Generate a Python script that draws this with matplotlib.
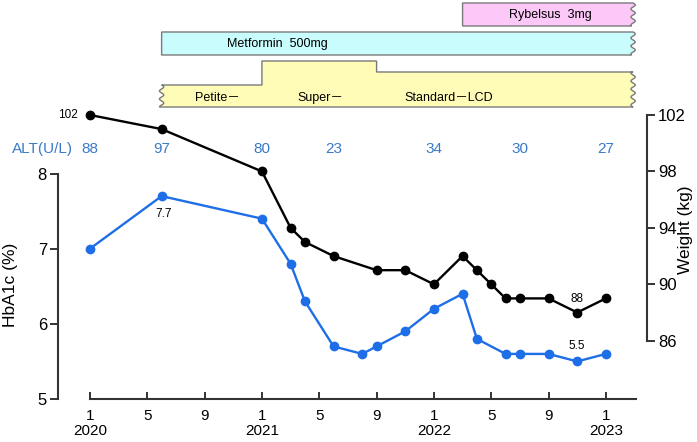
import numpy as np
import matplotlib
matplotlib.use("Agg")
import matplotlib.pyplot as plt
from matplotlib.patches import Polygon

plt.rcParams['font.family'] = ['Liberation Sans', 'Noto Sans CJK JP', 'DejaVu Sans']

# months counted from Jan 2020 (0 = 2020/1)
w_month = [0, 5, 12, 14, 15, 17, 20, 22, 24, 26, 27, 28, 29, 30, 32, 34, 36]
weight = [102, 101, 98, 94, 93, 92, 91, 91, 90, 92, 91, 90, 89, 89, 89, 88, 89]
a_month = [0, 5, 12, 14, 15, 17, 19, 20, 22, 24, 26, 27, 29, 30, 32, 34, 36]
hba1c = [7.0, 7.7, 7.4, 6.8, 6.3, 5.7, 5.6, 5.7, 5.9, 6.2, 6.4, 5.8, 5.6, 5.6, 5.6, 5.5, 5.6]

alt_month = [0, 5, 12, 17, 24, 30, 36]
alt = [88, 97, 80, 23, 34, 30, 27]

xticks = list(range(0, 37, 4))
xlabels = ['1\n2020', '5', '9', '1\n2021', '5', '9', '1\n2022', '5', '9', '1\n2023']

# treatments (start month)
ryb_start = 26
met_start = 5
diet_steps = [5, 12, 20]
diet_labels = ['Petite－', 'Super－', 'Standard－LCD']
bar_end = 37.9

BLUE = '#1e6ee8'
ALTC = '#3a7ac8'
SPINE = '#333333'

fig = plt.figure(figsize=(6.97, 4.42), dpi=100)
ax = fig.add_axes([58/697, 1-399/442, 589/697, 399/442])
ax.patch.set_alpha(0)
xl = (-2.23, 38.87)
ax.set_xlim(*xl)
ax.set_ylim(5, 10.31)

ax2 = ax.twinx()
ax2.set_ylim(81.87, 110.15)

ax.plot(a_month, hba1c, '-o', color=BLUE, lw=1.7, ms=6, zorder=3)
ax2.plot(w_month, weight, '-o', color='black', lw=1.7, ms=6, zorder=3)

for s in ['top', 'right']:
    ax.spines[s].set_visible(False)
for s in ['top', 'left', 'bottom']:
    ax2.spines[s].set_visible(False)
ax.spines['left'].set_bounds(5, 8)
ax.spines['bottom'].set_bounds(0, 38.1)
ax2.spines['right'].set_bounds(86, 102)
for sp in [ax.spines['left'], ax.spines['bottom'], ax2.spines['right']]:
    sp.set_color(SPINE)
    sp.set_linewidth(1.5)

ax.set_yticks([5, 6, 7, 8])
ax2.set_yticks([86, 90, 94, 98, 102])
ax.set_xticks(xticks)
ax.set_xticklabels(xlabels, fontsize=11, linespacing=1.15)
ax.tick_params(axis='x', direction='in', length=5, width=1.4, color=SPINE, pad=7)
ax.tick_params(axis='y', direction='out', length=6, width=1.4, color=SPINE, labelsize=12, pad=2)
ax2.tick_params(axis='y', direction='out', length=6, width=1.4, color=SPINE, labelsize=12, pad=2)

ax.set_ylabel('HbA1c (%)', fontsize=12.5)
ax.yaxis.set_label_coords(-0.068, 0.286)
ax2.set_ylabel('Weight (kg)', fontsize=12.5, va='center')
ax2.yaxis.set_label_coords(1.065, 0.424)

ax2.annotate('102', (w_month[0], weight[0]), xytext=(-12, 0), textcoords='offset pixels',
             ha='right', va='center', fontsize=8.5)
ax2.annotate('88', (w_month[15], weight[15]), xytext=(0, 14), textcoords='offset pixels',
             ha='center', va='center', fontsize=8.5)
ax.annotate('7.7', (a_month[1], hba1c[1]), xytext=(2, -18), textcoords='offset pixels',
            ha='center', va='center', fontsize=8.5)
ax.annotate('5.5', (a_month[15], hba1c[15]), xytext=(0, 15), textcoords='offset pixels',
            ha='center', va='center', fontsize=8.5)

# top panel: y in pixels from the top of the figure
top = fig.add_axes([58/697, 1-160/442, 589/697, 160/442])
top.set_xlim(*xl)
top.set_ylim(160, 0)
top.axis('off')
top.patch.set_alpha(0)


def wave(xc, y0, y1, amp=0.15, period=8.0):
    y = np.linspace(y0, y1, 60)
    x = xc + amp * np.sin(2 * np.pi * (y - y0) / period)
    return list(zip(x, y))


def bar(x0, y0, y1, color):
    pts = [(x0, y1), (x0, y0), (bar_end, y0)] + wave(bar_end, y0, y1)
    top.add_patch(Polygon(pts, closed=True, fc=color, ec='#7a7a7a', lw=1.0))


bar(ryb_start, 3, 26, '#fbc8f8')
bar(met_start, 32, 55, '#c8fcfd')
top.text(32.1, 15, 'Rybelsus  3mg', ha='center', va='center', fontsize=9)
top.text(13.1, 44, 'Metformin  500mg', ha='center', va='center', fontsize=9)

# diet bar with steps
d_tops = [85, 61, 72]
ybot = 107
pts = [(diet_steps[0], ybot), (bar_end, ybot)] + wave(bar_end, ybot, d_tops[-1])
edges = diet_steps + [bar_end]
for i in range(len(d_tops) - 1, -1, -1):
    pts.append((edges[i + 1], d_tops[i]))
    pts.append((edges[i], d_tops[i]))
pts += wave(diet_steps[0], d_tops[0], ybot)
top.add_patch(Polygon(pts, closed=True, fc='#fffcb8', ec='#7a7a7a', lw=1.0))
for xm, lab in zip([8.9, 16.1, 25.05], diet_labels):
    top.text(xm, 98, lab, ha='center', va='center', fontsize=9)

# ALT row
top.text(-1.2, 149, 'ALT(U/L)', ha='right', va='center', fontsize=11, color=ALTC)
for m, v in zip(alt_month, alt):
    top.text(m, 149, str(v), ha='center', va='center', fontsize=11, color=ALTC)

fig.savefig('out.png', dpi=100)
